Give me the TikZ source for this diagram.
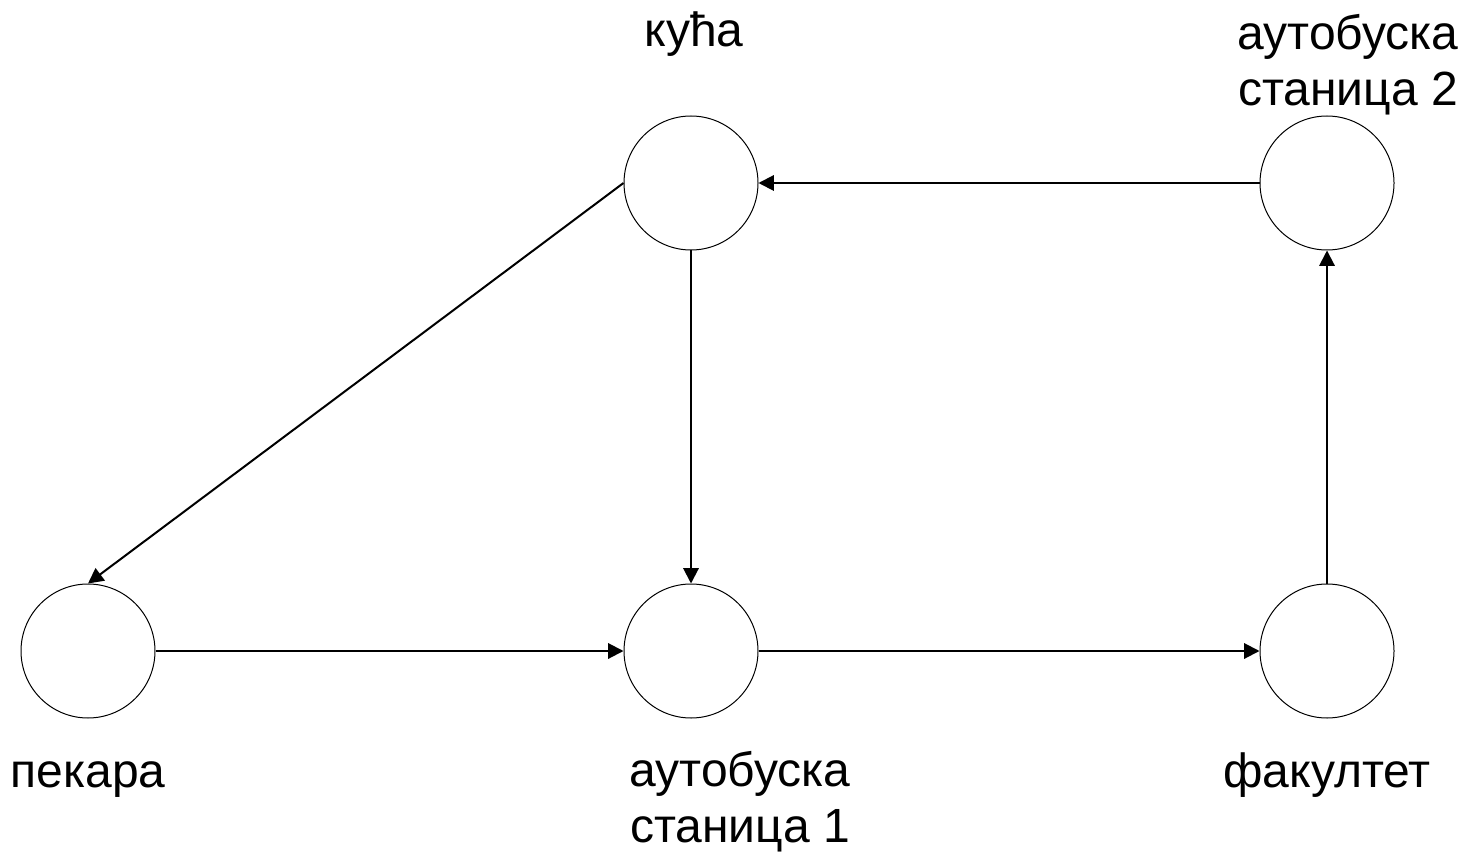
\documentclass[tikz,border=0pt]{standalone}
\usepackage{fontspec}
\setmainfont{Liberation Sans}
\usetikzlibrary{arrows.meta}
\begin{document}
\begin{tikzpicture}[x=0.75pt,y=-0.75pt,
  place/.style={circle,draw=black,line width=0.75pt,minimum size=100.5pt,inner sep=0pt},
  lbl/.style={font=\fontsize{36}{42}\selectfont,align=center,anchor=base,inner sep=0pt},
  edge/.style={line width=1.5pt,-{Triangle[length=11.5pt,width=11.5pt]}}]
\useasboundingbox (0,0) rectangle (1470,852);
\fill[white] (0,0) rectangle (1470,852);

% places
\node[place] (kuca) at (691,183) {};
\node[place] (st2)  at (1327,183) {};
\node[place] (pek)  at (88,651) {};
\node[place] (st1)  at (691,651) {};
\node[place] (fak)  at (1327,651) {};

% labels (base anchor = baseline of the last line)
\node[lbl] (lkuca) at (694,47) {кућа};
\node[lbl] (lst2)  at (1348,106) {аутобуска\\станица 2};
\node[lbl] (lpek)  at (88,787) {пекара};
\node[lbl] (lst1)  at (740,842) {аутобуска\\станица 1};
\node[lbl] (lfak)  at (1327,787) {факултет};

% connections
\draw[edge] (kuca.west) -- (pek.north);
\draw[edge] (kuca.south) -- (st1.north);
\draw[edge] (pek.east) -- (st1.west);
\draw[edge] (st1.east) -- (fak.west);
\draw[edge] (fak.north) -- (st2.south);
\draw[edge] (st2.west) -- (kuca.east);
\end{tikzpicture}
\end{document}
